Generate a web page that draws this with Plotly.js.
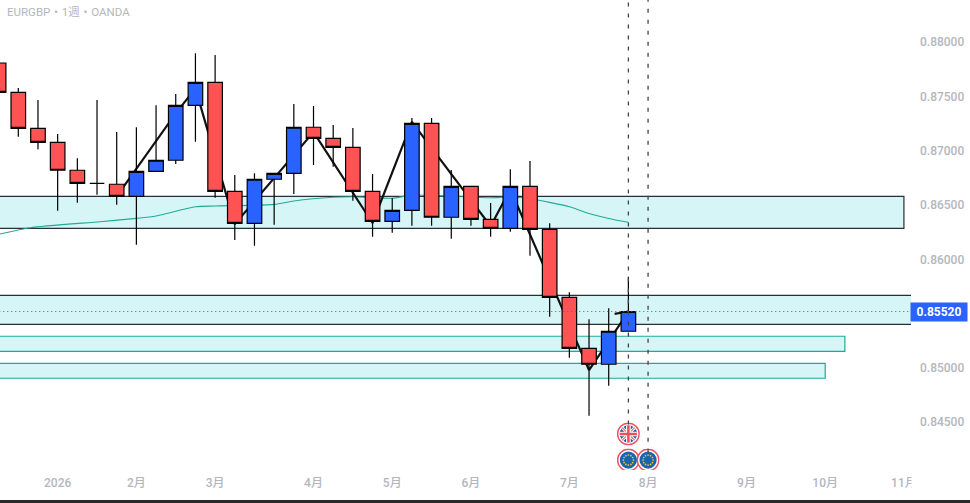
<!DOCTYPE html>
<html><head><meta charset="utf-8">
<script src="https://cdn.plot.ly/plotly-3.0.1.min.js"></script>
<style>html,body{margin:0;padding:0;background:#fff;overflow:hidden}#c{width:970px;height:503px}</style>
</head><body><div id="c"></div>
<script>
const weeks=[-1,0,1,2,3,4,5,6,7,8,9,10,11,12,13,14,15,16,17,18,19,20,21,22,23,24,25,26,27,28,29,30,31];
const opens=[.87809,.87539,.87207,.87078,.86821,.86701,.86692,.86581,.86811,.86913,.87419,.87631,.86627,.86332,.86738,.86793,.87217,.87115,.87032,.86627,.86351,.86452,.87253,.86388,.86673,.86369,.86286,.86673,.86277,.85651,.85181,.85034,.85338];
const closes=[.87539,.87207,.87078,.86821,.86701,.86701,.86581,.86811,.86913,.87419,.87631,.86627,.86332,.86738,.86793,.87217,.87115,.87032,.86627,.86351,.86452,.87253,.86388,.86673,.86369,.86286,.86673,.86277,.85651,.85181,.85034,.85338,.8552];
const highs=[.87809,.87579,.87468,.87155,.86931,.87468,.87173,.87217,.87419,.87523,.87898,.87883,.86777,.86793,.86793,.87431,.87413,.87238,.8721,.86786,.86565,.87302,.87302,.86823,.86673,.86519,.8683,.86906,.86332,.85697,.85448,.85549,.8584];
const lows=[.87539,.8713,.87014,.86448,.86522,.86596,.86504,.86135,.86811,.86879,.87084,.86568,.86179,.86126,.86319,.86602,.86869,.86854,.86541,.86209,.86246,.8631,.8631,.8619,.8631,.86209,.86255,.86034,.85472,.85094,.8456,.84837,.85338];

const zigX=[5,8,9,11,15,18,20,24,25,29,30,31,30.3];
const zigY=[.86581,.87345,.87575,.86325,.87172,.86335,.87266,.86305,.86646,.84980,.85247,.8552,.85498];

const maX=[-0.93,0.6,4.15,6,7,9,10,13,14,16,17,19,20,22,24,25,26,28,29,30,31];
const maY=[.86234,.86292,.86347,.86378,.864,.86485,.86492,.86507,.86538,.86572,.86577,.86563,.86593,.86582,.86568,.86575,.86559,.86485,.86423,.86377,.86342];

const zoneTop=[.86581,.85669,.85292,.85043];
const zoneBottom=[.86286,.85402,.85153,.84905];
const zoneEnd=[45,47,42,41];
const zoneBorder=['#2a2e39','#2a2e39','#22ab94','#22ab94'];

const lastPrice=.8552;
const eventX=[31,32];
const eventEnd=[.8448,.8422];
const flagY=[.84392,.84152];

const monthTicks=[2,6,10,15,19,23,28,32,37,41,45];
const monthLabels=['2026','2月','3月','4月','5月','6月','7月','8月','9月','10月','11月'];
const priceTicks=[.88,.875,.87,.865,.86,.85,.845];

const pxW=19.68, pxH=10857;
const font="Roboto, 'Noto Sans CJK JP', sans-serif";
const grey='#b4b6bd';

function flag(kind){
  let inner='';
  if(kind==='eu'){
    inner='<circle cx="16" cy="16" r="12" fill="#1a64ad"/>';
    for(let a=0;a<12;a++){const r=a*Math.PI/6;
      inner+=`<circle cx="${16+7*Math.cos(r)}" cy="${16+7*Math.sin(r)}" r="1.2" fill="#e3c93c"/>`;}
  }else{
    inner='<clipPath id="k"><circle cx="16" cy="16" r="12"/></clipPath><g clip-path="url(#k)"><rect x="0" y="0" width="32" height="32" fill="#2b5aa0"/>'+
    '<path d="M4 4L28 28M28 4L4 28" stroke="#fff" stroke-width="4"/><path d="M4 4L28 28M28 4L4 28" stroke="#e85a68" stroke-width="1.4"/>'+
    '<path d="M16 2V30M2 16H30" stroke="#fff" stroke-width="6.5"/><path d="M16 2V30M2 16H30" stroke="#e8505e" stroke-width="3.5"/></g>';
  }
  const svg=`<svg xmlns="http://www.w3.org/2000/svg" width="32" height="32" viewBox="0 0 32 32"><circle cx="16" cy="16" r="15" fill="#fff" stroke="#f2505e" stroke-width="2"/>${inner}</svg>`;
  return 'data:image/svg+xml;base64,'+btoa(svg);
}
const flagSize=23;
const images=[
  {k:'uk',x:31,y:flagY[0]},{k:'eu',x:31,y:flagY[1]},{k:'eu',x:32,y:flagY[1]}
].map(f=>({source:flag(f.k),xref:'x',yref:'y',x:f.x,y:f.y,sizex:flagSize/pxW,sizey:flagSize/pxH,xanchor:'center',yanchor:'middle',sizing:'stretch',layer:'above'}));

const shapes=[];
zoneTop.forEach((t,i)=>shapes.push({type:'rect',xref:'x',yref:'y',x0:-3,x1:zoneEnd[i],y0:zoneBottom[i],y1:t,fillcolor:'#d6f5f7',line:{color:zoneBorder[i],width:1.2},layer:'below'}));
shapes.push({type:'line',xref:'x',yref:'y',x0:-3,x1:47,y0:lastPrice,y1:lastPrice,line:{color:'#2962ff',width:1.2,dash:'1px,3px'},layer:'above'});
eventX.forEach((x,i)=>shapes.push({type:'line',xref:'x',yref:'y',x0:x,x1:x,y0:eventEnd[i],y1:.88389,line:{color:'#444',width:1.3,dash:'4px,7px'},layer:'above'}));
shapes.push({type:'rect',xref:'paper',yref:'paper',x0:0,x1:970/911,y0:-33/470,y1:-30/470,fillcolor:'#2a2a2a',line:{width:0},layer:'above'});

const traces=[
 {type:'scatter',mode:'lines',x:maX,y:maY,line:{color:'#22ab94',width:1.1,shape:'spline',smoothing:0.6},hoverinfo:'skip',showlegend:false,zorder:0},
 {type:'scatter',mode:'lines',x:zigX,y:zigY,line:{color:'#131313',width:2.2},hoverinfo:'skip',showlegend:false,zorder:1},
 {type:'candlestick',x:weeks,open:opens,high:highs,low:lows,close:closes,whiskerwidth:0,
  increasing:{line:{color:'#000',width:1.2},fillcolor:'#2962ff'},
  decreasing:{line:{color:'#000',width:1.2},fillcolor:'#ff5252'},showlegend:false,zorder:2}
];

const layout={
 width:970,height:503,margin:{l:0,r:59,t:0,b:33,pad:0},
 paper_bgcolor:'#fff',plot_bgcolor:'#fff',showlegend:false,boxmode:'group',boxgap:0.26,boxgroupgap:0,
 title:{text:'EURGBP・1週・OANDA',x:7/970,xanchor:'left',xref:'container',y:1-12/503,yref:'container',yanchor:'middle',font:{family:font,size:11.5,color:grey}},
 xaxis:{range:[-0.93,45.36],tickmode:'array',tickvals:monthTicks,ticktext:monthLabels,showgrid:false,zeroline:false,showline:false,ticks:'',
  tickfont:{family:font,size:12,color:grey,weight:500},rangeslider:{visible:false},fixedrange:true,ticklabelstandoff:4},
 yaxis:{side:'right',range:[.840601,.883891],tickmode:'array',tickvals:priceTicks,tickformat:'.5f',showgrid:false,zeroline:false,showline:false,ticks:'',
  tickfont:{family:font,size:12,color:grey,weight:500},fixedrange:true,ticklabelstandoff:8},
 shapes,images,
 annotations:[
  {xref:'paper',yref:'paper',x:910/911,y:1-312/470,xanchor:'left',yanchor:'middle',showarrow:false,text:'0.85520',font:{family:font,size:12,color:'#fff',weight:700},bgcolor:'#2962ff',borderpad:2,width:52,height:14,align:'center'},
  {xref:'paper',yref:'paper',x:911/911,y:-6/470,xanchor:'left',yanchor:'top',showarrow:false,text:' ',bgcolor:'#fff',width:12,height:14}
 ]
};
Plotly.newPlot('c',traces,layout,{displayModeBar:false,staticPlot:true});
</script></body></html>
